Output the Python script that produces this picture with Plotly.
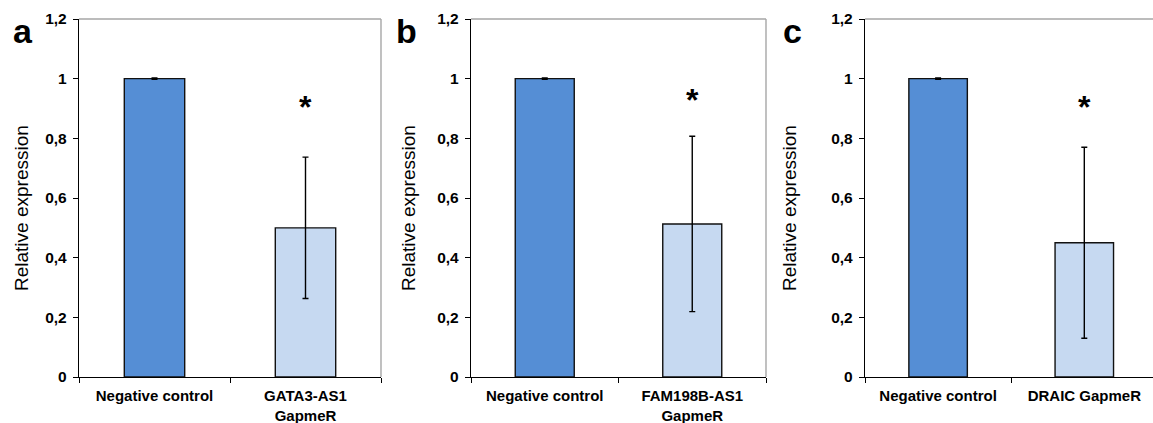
import plotly.graph_objects as go

categories_a = ["Negative control", "GATA3-AS1<br>GapmeR"]
categories_b = ["Negative control", "FAM198B-AS1<br>GapmeR"]
categories_c = ["Negative control", "DRAIC GapmeR"]
values_a = [1.0, 0.5]
values_b = [1.0, 0.513]
values_c = [1.0, 0.45]
errors_a = [0.002, 0.237]
errors_b = [0.002, 0.294]
errors_c = [0.002, 0.32]
star_y = [0.905, 0.928, 0.905]
panel_letters = ["a", "b", "c"]
ytick_vals = [0, 0.2, 0.4, 0.6, 0.8, 1.0, 1.2]
ytick_text = ["0", "0,2", "0,4", "0,6", "0,8", "1", "1,2"]
bar_colors = ["#558ED5", "#C6D9F1"]

W, H = 1153, 423
FONT = "Arial, Liberation Sans, sans-serif"

panels = [
    dict(cats=categories_a, vals=values_a, errs=errors_a, x0=79, x1=381, xr=[-0.5, 1.5], right=True, ylab_x=21, let_x=23),
    dict(cats=categories_b, vals=values_b, errs=errors_b, x0=471, x1=766, xr=[-0.5, 1.5], right=True, ylab_x=408, let_x=406),
    dict(cats=categories_c, vals=values_c, errs=errors_c, x0=865, x1=1153, xr=[-0.5, -0.5 + 288 / 146.2], right=False, ylab_x=789, let_x=792),
]
y_top, y_bot = 19, 377

fig = go.Figure()
for i, p in enumerate(panels):
    n = "" if i == 0 else str(i + 1)
    fig.add_trace(go.Bar(
        x=p["cats"], y=p["vals"],
        marker=dict(color=bar_colors, line=dict(color="#111111", width=1.4)),
        width=0.4,
        error_y=dict(type="data", array=p["errs"], color="#000000", thickness=1.4, width=3),
        xaxis="x" + n, yaxis="y" + n, showlegend=False,
    ))
    dom_x = [p["x0"] / W, p["x1"] / W]
    dom_y = [1 - y_bot / H, 1 - y_top / H]
    fig.layout["xaxis" + n] = dict(
        domain=dom_x, anchor="y" + n, type="category", range=p["xr"],
        showline=True, linecolor="#000000", linewidth=1.4,
        ticks="outside", tickson="boundaries", ticklen=5, tickcolor="#000000", tickwidth=1.3,
        tickfont=dict(family=FONT, size=15, color="#000000", weight="bold"),
        showgrid=False, zeroline=False, fixedrange=True, ticklabelstandoff=5,
        automargin=False,
    )
    fig.layout["yaxis" + n] = dict(
        domain=dom_y, anchor="x" + n, range=[0, 1.2],
        tickvals=ytick_vals, ticktext=ytick_text,
        showline=True, linecolor="#000000", linewidth=1.4,
        ticks="outside", ticklen=5, tickcolor="#000000", tickwidth=1.3,
        tickfont=dict(family=FONT, size=15.5, color="#000000", weight="bold"),
        showgrid=False, zeroline=False, fixedrange=True, ticklabelstandoff=3,
        automargin=False,
    )
    # grey top / right frame
    fig.add_shape(type="line", xref="x" + n + " domain", yref="y" + n + " domain",
                  x0=0, x1=1, y0=1, y1=1, line=dict(color="#A6A6A6", width=1.4))
    if p["right"]:
        fig.add_shape(type="line", xref="x" + n + " domain", yref="y" + n + " domain",
                      x0=1, x1=1, y0=0, y1=1, line=dict(color="#A6A6A6", width=1.4))
    # asterisk
    fig.add_annotation(x=p["cats"][1], y=star_y[i], xref="x" + n, yref="y" + n,
                       xanchor="center", yanchor="middle",
                       text="*", showarrow=False, font=dict(family=FONT, size=32, color="#000000", weight="bold"))
    # y axis title
    fig.add_annotation(x=p["ylab_x"] / W, y=1 - 208 / H, xref="paper", yref="paper",
                       xanchor="center", yanchor="middle",
                       text="Relative expression", textangle=-90, showarrow=False,
                       font=dict(family=FONT, size=19, color="#000000"))
    # panel letter
    fig.add_annotation(x=p["let_x"] / W, y=1 - 31 / H, xref="paper", yref="paper",
                       xanchor="center", yanchor="middle",
                       text=panel_letters[i], showarrow=False,
                       font=dict(family=FONT, size=34, color="#000000", weight="bold"))

fig.update_layout(
    width=W, height=H, margin=dict(l=0, r=0, t=0, b=0),
    paper_bgcolor="#FFFFFF", plot_bgcolor="#FFFFFF",
    bargap=0.6,
)
fig.write_html("out.html")
